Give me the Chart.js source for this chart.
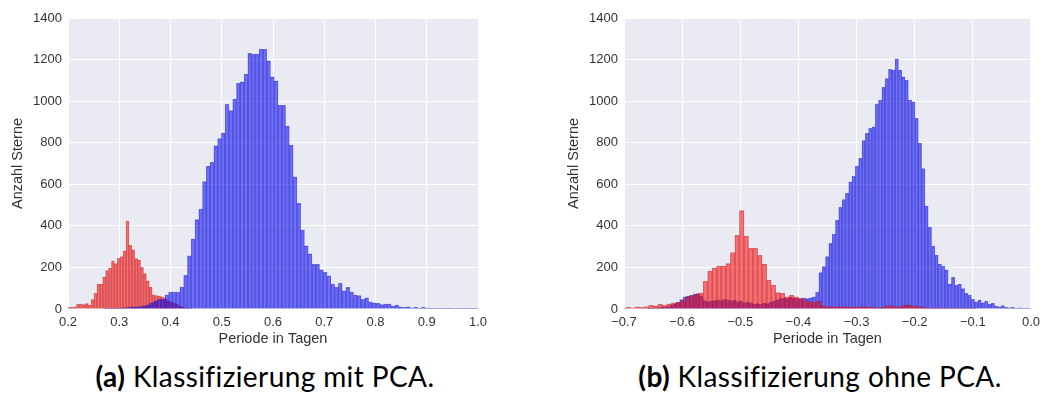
<!DOCTYPE html>
<html>
<head>
<meta charset="utf-8">
<script src="https://cdn.jsdelivr.net/npm/chart.js"></script>
<style>
html,body{margin:0;padding:0;background:#fff;width:1046px;height:394px;overflow:hidden;}
canvas{position:absolute;top:0;}
#ca{left:0;}
#cb{left:556px;}
.cap{position:absolute;top:363px;font-family:Lato,"Open Sans",sans-serif;font-size:28px;line-height:27px;letter-spacing:0.4px;color:#000;white-space:nowrap;transform:translateX(-50%);}
.cap b{font-weight:700;}
</style>
</head>
<body>
<canvas id="ca" width="500" height="352"></canvas>
<canvas id="cb" width="490" height="352"></canvas>
<div class="cap" style="left:265px"><b>(a)</b> Klassifizierung mit PCA.</div>
<div class="cap" style="left:820px"><b>(b)</b> Klassifizierung ohne PCA.</div>
<script>
// ---- data ----
const xTitle = 'Periode in Tagen';
const yTitle = 'Anzahl Sterne';
const yTicksRange = [0, 1400];
const yTickStep = 200;
const xTickStep = 0.1;
const aXRange = [0.2, 1.0];
const bXRange = [-0.7, 0.0];

// (a) Klassifizierung mit PCA — equal-width histogram bins: first edge, bin width, counts
const aRedStart = 0.1996;
const aRedWidth = 0.00568;
const aRedCounts = [8, 8, 11, 22, 24, 21, 26, 19, 45, 75, 120, 120, 155, 185, 197, 232, 219, 244, 252, 280,
  423, 306, 285, 242, 235, 200, 170, 135, 105, 68, 64, 62, 58, 50, 40, 35, 28, 22, 15, 10, 6, 4, 2];

const aBlueStart = 0.2637;
const aBlueWidth = 0.007363;
const aBlueCounts = [0, 1, 1, 2, 3, 4, 6, 8, 10, 10, 12, 15, 20, 28, 38, 46, 47,
  67, 82, 82, 82, 106, 162, 256, 336, 430, 481, 613, 686, 706, 785, 820, 846, 985, 955, 1010, 1086, 1093,
  1130, 1230, 1227, 1227, 1251, 1249, 1194, 1117, 1098, 980, 980, 880, 789, 636, 508, 380, 304, 265, 215, 215,
  188, 176, 159, 120, 104, 124, 88, 104, 82, 67, 64, 47, 54, 35, 30, 27, 21, 24, 24, 14, 19, 11, 8, 10, 6, 8,
  3, 8, 5, 3, 4, 3, 3, 5, 3, 2, 3, 2, 3, 2, 1, 1];

// (b) Klassifizierung ohne PCA
const bRedStart = -0.7042;
const bRedWidth = 0.0078;
const bRedCounts = [4, 8, 6, 10, 8, 12, 18, 15, 22, 18, 25, 30, 32, 40, 58, 64, 72, 76,
  133, 183, 198, 206, 207, 218, 272, 354, 473, 351, 292, 292, 258, 216, 139, 115, 79, 75, 59, 66, 59, 52, 42, 35, 32, 38,
  15, 12, 10, 10, 12, 10, 10, 8, 10, 12, 10, 8, 6, 8, 14, 16, 12, 10, 20, 18, 15, 12, 10, 6, 5, 6, 4, 3, 4, 3, 2, 3, 1, 1];

const bBlueStart = -0.6612;
const bBlueWidth = 0.0057;
const bBlueCounts = [3, 4, 5, 6, 8, 10, 12, 18, 25, 32, 45, 58, 62, 66, 72, 74, 62, 40, 36, 38, 40, 44, 40, 46, 44,
  40, 42, 36, 38, 30, 33, 30, 24, 26, 22, 28, 26, 32, 38, 45, 50, 52, 50, 56, 52, 50, 48, 52, 50,
  54, 59, 82, 175, 204, 252, 316, 361, 428, 489, 527, 556, 612, 640, 688, 725, 810, 845, 869, 877, 986, 1005,
  1066, 1109, 1153, 1149, 1204, 1149, 1117, 1101, 1005, 997, 917, 797, 676, 495, 393, 303, 260, 216, 207, 188,
  120, 152, 115, 120, 98, 75, 67, 46, 35, 43, 30, 38, 24, 27, 14, 11, 16, 8, 6, 8, 5, 6, 3, 3, 2];

// ---- styles ----
const RED = 'rgba(255,0,0,0.53)';
const RED_EDGE = 'rgba(150,30,30,0.45)';
const BLUE = 'rgba(0,0,255,0.53)';
const BLUE_EDGE = 'rgba(30,30,150,0.45)';
const PLOT_BG = '#EAEAF2';
const TXT = '#333333';
const FONT = '"Liberation Sans", Arial, sans-serif';

function binsToPoints(start, width, counts) {
  return counts.map((c, i) => ({x: start + (i + 0.5) * width, y: c}));
}
function fmtX(v) {
  const s = (Math.abs(v) < 1e-9 ? 0 : v).toFixed(1);
  return s.replace('-', '\u2212');
}
function fmtY(v) { return String(Math.round(v)); }

const bgPlugin = {
  id: 'plotbg',
  beforeDraw(chart) {
    const {ctx, chartArea: a} = chart;
    ctx.save();
    ctx.fillStyle = PLOT_BG;
    ctx.fillRect(a.left, a.top, a.right - a.left, a.bottom - a.top);
    ctx.restore();
  }
};

function dataset(label, start, width, counts, axis, bg, edge) {
  return {
    label, data: binsToPoints(start, width, counts), xAxisID: axis,
    binStart: start, binWidth: width,
    backgroundColor: bg, borderColor: edge,
    borderWidth: 0.5, borderSkipped: 'start',
    grouped: false,
    categoryPercentage: 1.0, barPercentage: 1.0
  };
}

function makeChart(id, xr, datasets, padRight) {
  const xCommon = {type: 'linear', min: xr[0], max: xr[1], offset: false};
  const chart = new Chart(document.getElementById(id), {
    type: 'bar',
    data: {datasets},
    plugins: [bgPlugin],
    options: {
      responsive: false,
      animation: false,
      devicePixelRatio: 1,
      layout: {padding: {left: 0, top: 18, right: padRight, bottom: 0}},
      plugins: {legend: {display: false}, tooltip: {enabled: false}},
      scales: {
        x: Object.assign({}, xCommon, {
          grid: {color: '#ffffff', lineWidth: 1, drawTicks: false, offset: false},
          border: {display: false},
          ticks: {stepSize: xTickStep, padding: 6, color: TXT, font: {family: FONT, size: 13},
                  callback: fmtX, maxRotation: 0, autoSkip: false},
          title: {display: true, text: xTitle, color: TXT, font: {family: FONT, size: 14.5},
                  padding: {top: 0, bottom: 4}},
          afterFit(s) { s.height = 43; }
        }),
        x2: Object.assign({}, xCommon, {
          display: false, grid: {display: false, offset: false},
          ticks: {stepSize: xTickStep}
        }),
        y: {
          min: yTicksRange[0], max: yTicksRange[1],
          grid: {color: '#ffffff', lineWidth: 1, drawTicks: false},
          border: {display: false},
          ticks: {stepSize: yTickStep, padding: 6, color: TXT, font: {family: FONT, size: 13}, callback: fmtY},
          title: {display: true, text: yTitle, color: TXT, font: {family: FONT, size: 14.5},
                  padding: {top: 9.6, bottom: 0}},
          afterFit(s) { s.width = 68; }
        }
      }
    }
  });
  // bar thickness = one bin width, measured through the library's own x scale
  chart.data.datasets.forEach(ds => {
    const sc = chart.scales[ds.xAxisID];
    ds.barThickness = Math.abs(sc.getPixelForValue(ds.binStart + ds.binWidth) - sc.getPixelForValue(ds.binStart));
  });
  chart.update('none');
  return chart;
}

// (a): blue drawn on top of red
makeChart('ca', aXRange, [
  dataset('blau', aBlueStart, aBlueWidth, aBlueCounts, 'x', BLUE, BLUE_EDGE),
  dataset('rot', aRedStart, aRedWidth, aRedCounts, 'x2', RED, RED_EDGE)
], 22);

// (b): red drawn on top of blue
makeChart('cb', bXRange, [
  dataset('rot', bRedStart, bRedWidth, bRedCounts, 'x', RED, RED_EDGE),
  dataset('blau', bBlueStart, bBlueWidth, bBlueCounts, 'x2', BLUE, BLUE_EDGE)
], 13);
</script>
</body>
</html>
